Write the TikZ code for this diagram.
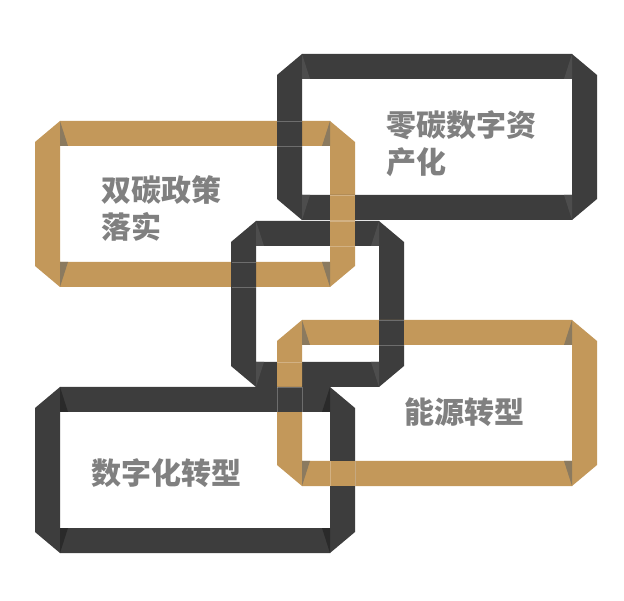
\documentclass[tikz,border=0pt]{standalone}
\usepackage{fontspec}
\newfontfamily\cjk{Noto Sans CJK SC}
\definecolor{gold}{HTML}{C3985A}
\definecolor{goldwedge}{HTML}{8B7A5F}
\definecolor{darkband}{HTML}{3D3D3D}
\definecolor{lightwedge}{HTML}{4D4D4D}
\definecolor{darkwedge}{HTML}{2A2A2A}
\definecolor{txtgray}{HTML}{808080}
\newcommand\chainframe[6]{%
  \fill[#5,even odd rule]
    (#1,{#2-25}) -- (#3,{#2-25}) -- ({#3+25},{#2-4}) -- ({#3+25},{#4+4})
    -- (#3,{#4+25}) -- (#1,{#4+25}) -- ({#1-25},{#4+4}) -- ({#1-25},{#2-4}) -- cycle
    (#1,#2) rectangle (#3,#4);
  \fill[#6] (#1,{#2-25}) -- (#1,#2) -- ({#1+8},#2) -- cycle;
  \fill[#6] (#3,{#2-25}) -- (#3,#2) -- ({#3-8},#2) -- cycle;
  \fill[#6] (#1,{#4+25}) -- (#1,#4) -- ({#1+8},#4) -- cycle;
  \fill[#6] (#3,{#4+25}) -- (#3,#4) -- ({#3-8},#4) -- cycle;
}
\tikzset{
  seam/.style={white,opacity=0.25,line width=0.6pt},
  label/.style={anchor=north west,inner sep=0pt,align=left,text=txtgray,
    font=\cjk\bfseries\fontsize{30}{37}\selectfont}
}
\begin{document}
\begin{tikzpicture}[x=1pt,y=-1pt]
\useasboundingbox[fill=white] (0,0) rectangle (624,601);
% frames
\chainframe{60}{146}{330}{262}{gold}{goldwedge}
\chainframe{302}{79}{572}{195}{darkband}{lightwedge}
\chainframe{256}{246}{379}{362}{darkband}{lightwedge}
\chainframe{302}{345}{572}{461}{gold}{goldwedge}
\chainframe{60}{412}{330}{528}{darkband}{darkwedge}
% over-crossings
\fill[gold] (330,195) rectangle (355,246);
\fill[darkband] (379,320) rectangle (404,345);
\fill[gold] (330,461) rectangle (355,486);
% seams
\draw[seam] (277,121) -- (302,121) (277,146) -- (302,146);
\draw[seam] (330,195) -- (355,195) (330,220) -- (355,220);
\draw[seam] (330,221) -- (355,221) (330,246) -- (355,246);
\draw[seam] (232,262) -- (256,262) (232,287) -- (256,287);
\draw[seam] (379,320) -- (404,320) (379,345) -- (404,345);
\draw[seam] (277,362) -- (302,362) (277,387) -- (302,387);
\draw[seam] (277,387) -- (277,412) (302,387) -- (302,412);
\draw[seam] (330,461) -- (330,486) (355,461) -- (355,486);
% texts
\node[label] (t1) at (101,175) {双碳政策\\落实};
\node[label] (t2) at (386,110) {零碳数字资\\产化};
\node[label] (t3) at (404,398) {能源转型};
\node[label] (t4) at (91,458) {数字化转型};
\end{tikzpicture}
\end{document}
